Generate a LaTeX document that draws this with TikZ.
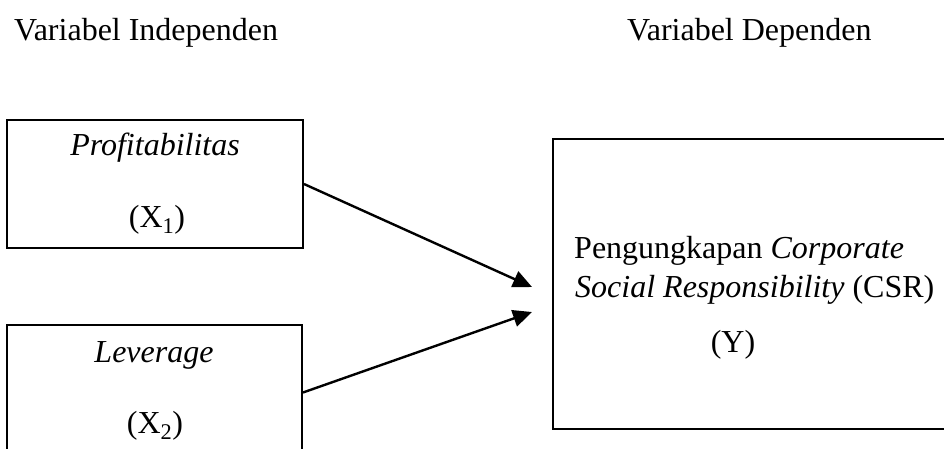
\documentclass[tikz,border=0pt]{standalone}
\usepackage{fontspec}
\setmainfont{Liberation Serif}
\usetikzlibrary{arrows.meta}
\begin{document}
\begin{tikzpicture}[x=1pt,y=-1pt,
  box/.style={draw=black,line width=2pt,rectangle,inner sep=0pt},
  txt/.style={inner sep=0pt,font=\fontsize{32}{39}\selectfont},
  arr/.style={line width=2.4pt,-{Triangle[length=19pt,width=17pt]}}]
\useasboundingbox (0,0) rectangle (944,448);
\clip (0,0) rectangle (944,448);
% boxes
\node[box,minimum width=296pt,minimum height=128pt] (b1) at (155,184) {};
\node[box,minimum width=295pt,minimum height=135pt] (b2) at (154.5,392.5) {};
\node[box,minimum width=407pt,minimum height=290pt] (by) at (756.5,284) {};
% headings
\node[txt,anchor=base west] (h1) at (14,40) {Variabel Independen};
\node[txt,anchor=base west] (h2) at (627,40) {Variabel Dependen};
% box texts
\node[txt,anchor=base] (p1) at (155,155) {\textit{Profitabilitas}};
\node[txt,anchor=base] (x1) at (157,227) {(X\textsubscript{1})};
\node[txt,anchor=base] (l2) at (154,362) {\textit{Leverage}};
\node[txt,anchor=base] (x2) at (155,433) {(X\textsubscript{2})};
\node[txt,anchor=base west] (y1) at (574,258) {Pengungkapan \textit{Corporate}};
\node[txt,anchor=base west] (y2) at (575,297) {\textit{Social Responsibility} (CSR)};
\node[txt,anchor=base] (y3) at (733,352) {(Y)};
% arrow ends
\coordinate (t1) at ([xshift=-20pt,yshift=-3pt]by.west);
\coordinate (t2) at ([xshift=-20pt,yshift=-28pt]by.west);
\draw[arr] (b1.east) -- (t1);
\draw[arr] (b2.east) -- (t2);
\end{tikzpicture}
\end{document}
